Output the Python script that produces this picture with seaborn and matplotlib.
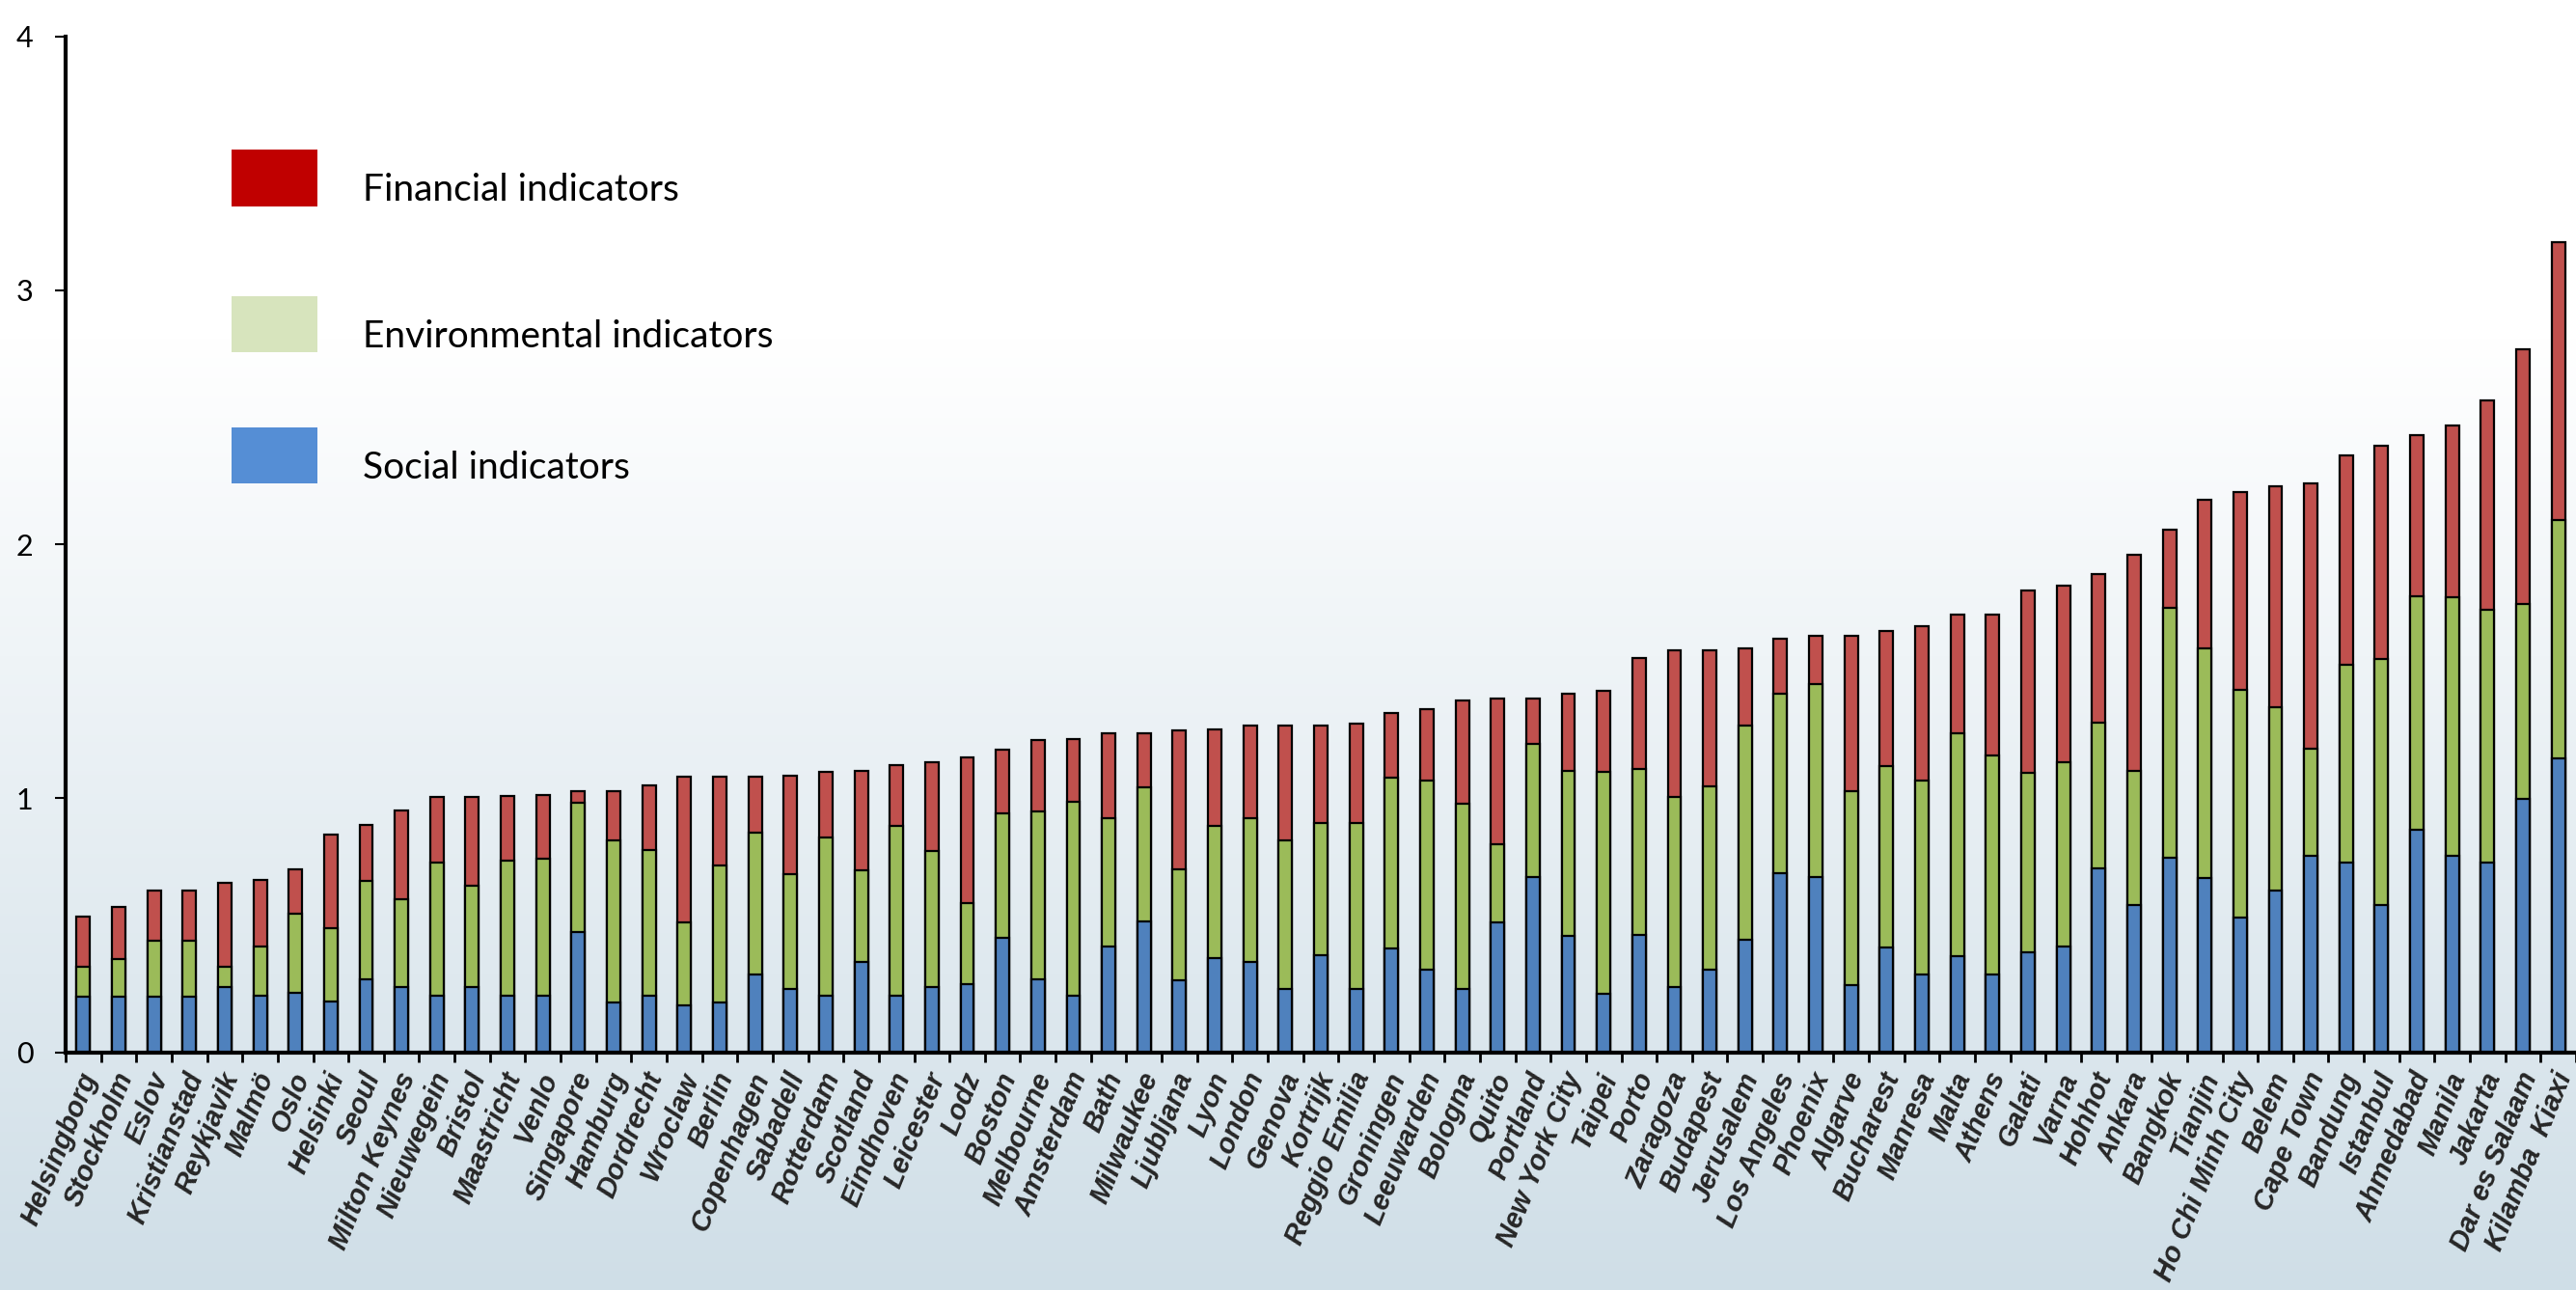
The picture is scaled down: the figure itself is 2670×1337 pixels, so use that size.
import numpy as np
import matplotlib
matplotlib.use("Agg")
import matplotlib.pyplot as plt
import matplotlib.transforms as mtransforms
from matplotlib.patches import Rectangle
import seaborn as sns

cities = ["Helsingborg", "Stockholm", "Eslov", "Kristianstad", "Reykjavik", "Malmö", "Oslo",
          "Helsinki", "Seoul", "Milton Keynes", "Nieuwegein", "Bristol", "Maastricht", "Venlo",
          "Singapore", "Hamburg", "Dordrecht", "Wroclaw", "Berlin", "Copenhagen", "Sabadell",
          "Rotterdam", "Scotland", "Eindhoven", "Leicester", "Lodz", "Boston", "Melbourne",
          "Amsterdam", "Bath", "Milwaukee", "Ljubljana", "Lyon", "London", "Genova", "Kortrijk",
          "Reggio Emilia", "Groningen", "Leeuwarden", "Bologna", "Quito", "Portland",
          "New York City", "Taipei", "Porto", "Zaragoza", "Budapest", "Jerusalem", "Los Angeles",
          "Phoenix", "Algarve", "Bucharest", "Manresa", "Malta", "Athens", "Galati", "Varna",
          "Hohhot", "Ankara", "Bangkok", "Tianjin", "Ho Chi Minh City", "Belem", "Cape Town",
          "Bandung", "Istanbul", "Ahmedabad", "Manila", "Jakarta", "Dar es Salaam", "Kilamba  Kiaxi"]

# cumulative tops
social_top = [0.219, 0.219, 0.219, 0.219, 0.255, 0.222, 0.232, 0.199, 0.286, 0.255, 0.222, 0.255, 0.222,
              0.222, 0.473, 0.196, 0.222, 0.184, 0.196, 0.305, 0.248, 0.222, 0.357, 0.222, 0.256, 0.267,
              0.449, 0.285, 0.222, 0.416, 0.516, 0.283, 0.371, 0.357, 0.248, 0.381, 0.248, 0.407, 0.323,
              0.250, 0.512, 0.691, 0.456, 0.229, 0.460, 0.257, 0.323, 0.444, 0.703, 0.691, 0.265, 0.414,
              0.306, 0.379, 0.306, 0.394, 0.416, 0.723, 0.578, 0.766, 0.684,
              0.529, 0.637, 0.772, 0.748, 0.580, 0.874, 0.774, 0.748, 0.998, 1.158]
env_top = [0.335, 0.368, 0.439, 0.439, 0.338, 0.416, 0.544, 0.490, 0.673, 0.602, 0.747, 0.655, 0.754,
           0.760, 0.982, 0.834, 0.796, 0.510, 0.736, 0.864, 0.701, 0.844, 0.715, 0.891, 0.792, 0.587,
           0.939, 0.947, 0.987, 0.921, 1.041, 0.720, 0.890, 0.921, 0.833, 0.902, 0.904, 1.080, 1.068,
           0.977, 0.820, 1.214, 1.108, 1.104, 1.114, 1.004, 1.046, 1.284, 1.413, 1.449, 1.027, 1.127,
           1.070, 1.256, 1.167, 1.101, 1.142, 1.296, 1.109, 1.750, 1.591,
           1.426, 1.358, 1.196, 1.526, 1.548, 1.793, 1.791, 1.740, 1.763, 2.095]
total_top = [0.532, 0.573, 0.638, 0.638, 0.668, 0.677, 0.721, 0.856, 0.895, 0.952, 1.003, 1.005, 1.010,
             1.014, 1.027, 1.028, 1.051, 1.084, 1.085, 1.086, 1.090, 1.104, 1.109, 1.132, 1.141, 1.162,
             1.189, 1.227, 1.234, 1.256, 1.257, 1.267, 1.269, 1.284, 1.284, 1.286, 1.295, 1.337, 1.352,
             1.384, 1.392, 1.394, 1.411, 1.423, 1.550, 1.583, 1.583, 1.591, 1.629, 1.640, 1.641, 1.658,
             1.678, 1.723, 1.724, 1.816, 1.837, 1.881, 1.960, 2.058, 2.175,
             2.204, 2.228, 2.240, 2.351, 2.388, 2.430, 2.469, 2.567, 2.767, 3.189]

social = np.array(social_top)
environmental = np.array(env_top) - social
financial = np.array(total_top) - np.array(env_top)

legend_labels = ["Financial indicators", "Environmental indicators", "Social indicators"]
yticks = [0, 1, 2, 3, 4]

C_SOC, C_ENV, C_FIN = "#4F81BD", "#9BBB59", "#C0504D"
L_FIN, L_ENV, L_SOC = "#C00000", "#D7E4BD", "#558ED5"

sns.set_style("ticks")
plt.rcParams["font.family"] = ["Lato", "DejaVu Sans"]

W, H = 2670, 1337
fig = plt.figure(figsize=(W / 100, H / 100), dpi=100)

# background gradient: white at top, pale blue-grey toward bottom
bg = fig.add_axes([0, 0, 1, 1], zorder=0)
rows = np.arange(H)
frac = np.clip((rows - 350) / (H - 350), 0, 1)[:, None]
top_c = np.array([1.0, 1.0, 1.0])
bot_c = np.array([0xcf, 0xde, 0xe7]) / 255
grad = (top_c * (1 - frac) + bot_c * frac)[:, None, :]
bg.imshow(grad, aspect="auto", extent=[0, 1, 0, 1], origin="upper")
bg.axis("off")

ax = fig.add_axes([68 / W, 246.5 / H, 1 - 68 / W, 1053 / H], zorder=1)
ax.patch.set_alpha(0)

bar_kw = dict(width=0.38, edgecolor="black", linewidth=1.6, saturation=1, ax=ax)
sns.barplot(x=cities, y=np.array(total_top), color=C_FIN, **bar_kw)
sns.barplot(x=cities, y=social + environmental, color=C_ENV, **bar_kw)
sns.barplot(x=cities, y=social, color=C_SOC, **bar_kw)

ax.set_xlim(-0.5, len(cities) - 0.5)
ax.set_ylim(0, 4)
ax.set_yticks(yticks)
ax.set_yticklabels([str(t) for t in yticks], fontsize=22)
ax.set_xlabel("")
ax.set_ylabel("")

for s in ["top", "right"]:
    ax.spines[s].set_visible(False)
for s in ["left", "bottom"]:
    ax.spines[s].set_linewidth(3)
    ax.spines[s].set_color("black")

ax.tick_params(axis="y", direction="out", length=8, width=1.5, pad=16, colors="black")
ax.set_xticks(np.arange(len(cities)))
ax.set_xticklabels(cities, rotation=68, ha="right", rotation_mode="anchor",
                   fontsize=22, fontweight="bold", fontstyle="italic",
                   family=["Liberation Sans", "DejaVu Sans"])
ax.tick_params(axis="x", which="major", length=0, pad=12)
ax.set_xticks(np.arange(-0.5, len(cities), 1), minor=True)
ax.tick_params(axis="x", which="minor", direction="out", length=7, width=2, colors="black")

# shift tick labels a few pixels left so the last one stays inside the canvas
shift = mtransforms.ScaledTranslation(-6 / 100, 0, fig.dpi_scale_trans)
for t in ax.get_xticklabels():
    t.set_transform(t.get_transform() + shift)

# fit tick-label size so the longest label just reaches the bottom edge (as in the source)
axis_y = 246.5
target_bottom = 5.0
size = 22.0
for _ in range(4):
    fig.canvas.draw()
    r = fig.canvas.get_renderer()
    low = min(t.get_window_extent(r).y0 for t in ax.get_xticklabels())
    extent = axis_y - low
    want = axis_y - target_bottom
    size = size * want / extent
    for t in ax.get_xticklabels():
        t.set_fontsize(size)

# legend drawn in figure pixels
def fig_rect(x0, y0, x1, y1, color):
    fig.add_artist(Rectangle((x0 / W, 1 - y1 / H), (x1 - x0) / W, (y1 - y0) / H,
                             transform=fig.transFigure, facecolor=color, edgecolor="none", zorder=5))

legend_items = [(155, 214, L_FIN), (307, 365, L_ENV), (443, 501, L_SOC)]
for (y0, y1, col), lab in zip(legend_items, legend_labels):
    fig_rect(240, y0, 329, y1, col)
    fig.text(376 / W, 1 - ((y0 + y1) / 2 + 13) / H, lab, fontsize=28, va="center", ha="left",
             color="black", zorder=6)

fig.savefig("out.png", dpi=100)
